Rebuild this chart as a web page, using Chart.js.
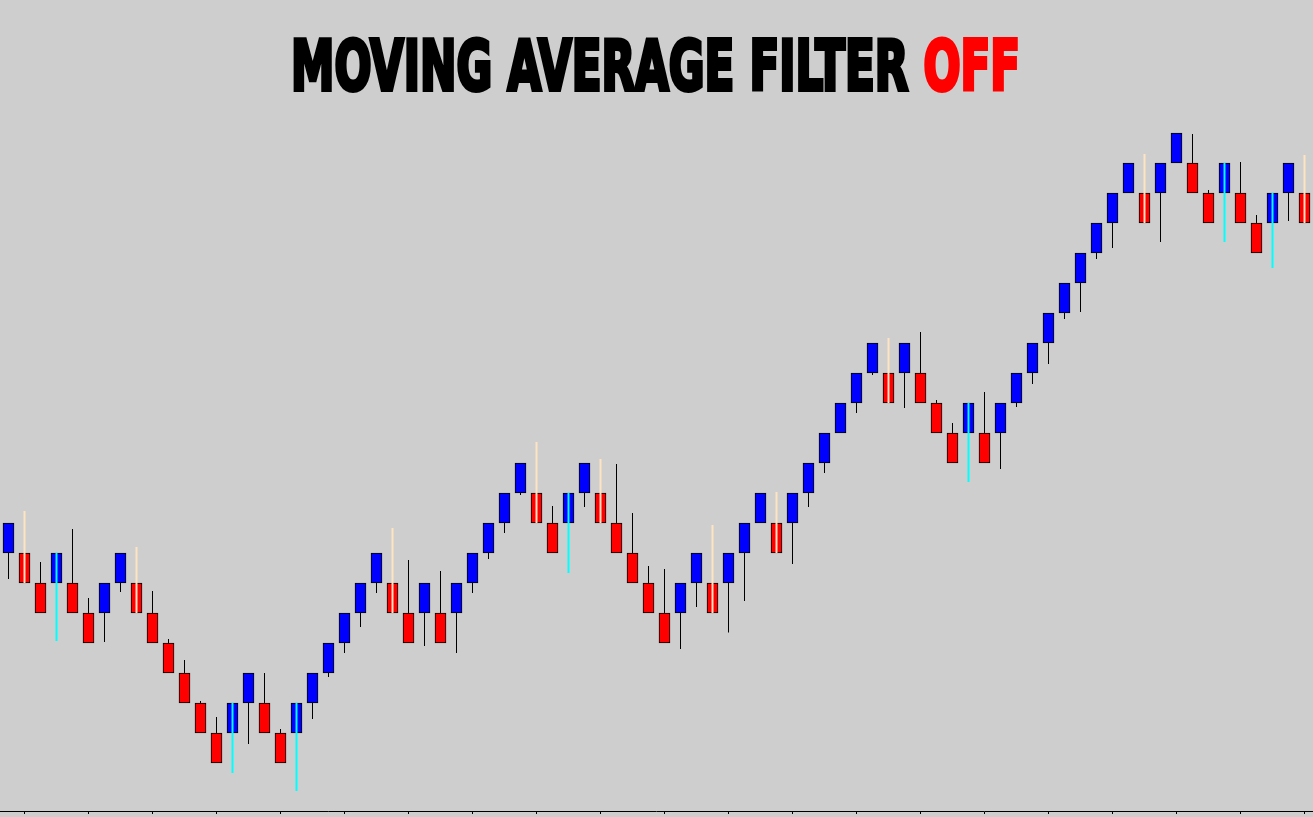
<!DOCTYPE html>
<html>
<head>
<meta charset="utf-8">
<title>Moving Average Filter OFF</title>
<script src="https://cdn.jsdelivr.net/npm/chart.js@4.4.1/dist/chart.umd.min.js"></script>
<style>
  html, body { margin: 0; padding: 0; background: #cecece; overflow: hidden; }
  #wrap { position: relative; width: 1313px; height: 817px; }
</style>
</head>
<body>
<div id="wrap"><canvas id="renko"></canvas></div>
<script>
// Renko bricks, in brick units (1 unit = one brick height)
const opens = [
  8, 8, 7, 7, 7, 6, 6, 7, 7, 6, 5, 4, 3, 2, 2, 3, 3, 2, 2, 3,
  4, 5, 6, 7, 7, 6, 6, 6, 6, 7, 8, 9, 10, 10, 9, 9, 10, 10, 9, 8,
  7, 6, 6, 7, 7, 7, 8, 9, 9, 9, 10, 11, 12, 13, 14, 14, 14, 14, 13, 12,
  12, 12, 12, 13, 14, 15, 16, 17, 18, 19, 20, 20, 20, 21, 21, 20, 20, 20, 19, 19,
  20, 20
];
const closes = [
  9, 7, 6, 8, 6, 5, 7, 8, 6, 5, 4, 3, 2, 1, 3, 4, 2, 1, 3, 4,
  5, 6, 7, 8, 6, 5, 7, 5, 7, 8, 9, 10, 11, 9, 8, 10, 11, 9, 8, 7,
  6, 5, 7, 8, 6, 8, 9, 10, 8, 10, 11, 12, 13, 14, 15, 13, 15, 13, 12, 11,
  13, 11, 13, 14, 15, 16, 17, 18, 19, 20, 21, 19, 21, 22, 20, 19, 21, 19, 18, 20,
  21, 19
];
// wick extreme (low for up bricks, high for down bricks); null = no wick
const wickEnds = [
  7.13, 9.4, 7.7, 5.07, 8.8, 6.5, 5.03, 6.7, 8.2, 6.73,
  5.13, 4.43, 3.07, 2.53, 0.67, 1.63, 4.0, 2.13, 0.07, 2.47,
  3.87, 4.67, 5.53, 6.67, 8.83, 7.77, 4.9, 7.4, 4.67, 6.67,
  7.8, 8.67, 9.93, 11.7, 9.57, 7.33, 9.53, 11.13, 10.97, 9.33,
  7.57, 7.47, 4.8, 6.2, 8.93, 5.35, 6.4, null, 10.03, 7.63,
  9.53, 10.67, null, 12.67, 13.93, 15.17, 12.83, 15.37, 13.1, 12.33,
  10.37, 13.37, 10.8, 12.87, 13.63, 14.3, 15.8, 16.03, 17.8, 18.17,
  null, 21.3, 18.37, null, 21.97, 20.1, 18.37, 21.03, 19.27, 17.5,
  19.07, 21.27
];
// wick style: k = black, c = cyan signal, b = beige signal
const wickStyles = [
  'k','b','k','c','k','k','k','k','b','k',
  'k','k','k','k','c','k','k','k','c','k',
  'k','k','k','k','b','k','k','k','k','k',
  'k','k','k','b','k','c','k','b','k','k',
  'k','k','k','k','b','k','k','k','b','k',
  'k','k','k','k','k','b','k','k','k','k',
  'c','k','k','k','k','k','k','k','k','k',
  'k','b','k','k','k','k','c','k','k','c',
  'k','b'
];
const brickLabels = opens.map((_, i) => String(i + 1));

const TITLE_MAIN = 'MOVING AVERAGE FILTER ';
const TITLE_STATE = 'OFF';

const UP = '#0000ff';
const DOWN = '#ff0000';
const CYAN = '#00ffff';
const BEIGE = '#ffe4c4';

const bodies = opens.map((o, i) => [o, closes[i]]);
const blackWicks = opens.map((o, i) =>
  wickEnds[i] !== null && wickStyles[i] === 'k' ? [o, wickEnds[i]] : null);
const signalWicks = closes.map((c, i) =>
  wickEnds[i] !== null && wickStyles[i] !== 'k' ? [c, wickEnds[i]] : null);

// heavy condensed headline, squeezed to the width of the original
const titlePlugin = {
  id: 'bigTitle',
  afterDraw(chart) {
    const ctx = chart.ctx;
    ctx.save();
    ctx.font = 'bold 70px "Liberation Sans Narrow", "DejaVu Sans Condensed", "Liberation Sans", sans-serif';
    ctx.textBaseline = 'alphabetic';
    const w1 = ctx.measureText(TITLE_MAIN).width;
    const w2 = ctx.measureText(TITLE_STATE).width;
    const sx = 729 / (w1 + w2);
    ctx.translate(291, 90);
    ctx.scale(sx, 1);
    ctx.lineJoin = 'miter';
    ctx.lineWidth = 4;
    ctx.fillStyle = '#000'; ctx.strokeStyle = '#000';
    ctx.fillText(TITLE_MAIN, 0, 0); ctx.strokeText(TITLE_MAIN, 0, 0);
    ctx.fillStyle = '#ff0000'; ctx.strokeStyle = '#ff0000';
    ctx.fillText(TITLE_STATE, w1, 0); ctx.strokeText(TITLE_STATE, w1, 0);
    ctx.restore();
  }
};

new Chart(document.getElementById('renko'), {
  type: 'bar',
  data: {
    labels: brickLabels,
    datasets: [
      {
        label: 'signal wick', data: signalWicks, order: 0, grouped: false,
        barThickness: 2, inflateAmount: 0, borderWidth: 0,
        backgroundColor: wickStyles.map((s) => (s === 'c' ? CYAN : BEIGE)),
      },
      {
        label: 'bricks', data: bodies, order: 1, grouped: false,
        barThickness: 11, borderWidth: 1, borderColor: '#000', borderSkipped: false,
        backgroundColor: opens.map((o, i) => (closes[i] > o ? UP : DOWN)),
      },
      {
        label: 'wick', data: blackWicks, order: 2, grouped: false,
        barThickness: 1, inflateAmount: 0, borderWidth: 0, backgroundColor: '#000',
      },
    ],
  },
  options: {
    responsive: true, maintainAspectRatio: false, animation: false,
    layout: { padding: { left: 0.5, right: 0.5, top: 0, bottom: 3 } },
    plugins: { legend: { display: false }, tooltip: { enabled: false }, title: { display: false } },
    scales: {
      x: {
        offset: true,
        ticks: { display: false, autoSkip: false },
        grid: {
          offset: false, drawOnChartArea: false, drawTicks: true, tickLength: 3,
          tickColor: (c) => (c.index % 4 === 1 ? '#000' : 'rgba(0,0,0,0)'),
        },
        border: { display: true, color: '#000', width: 1 },
      },
      y: { display: false, min: -0.6, max: 26.4333 },
    },
  },
  plugins: [titlePlugin],
});
</script>
</body>
</html>
